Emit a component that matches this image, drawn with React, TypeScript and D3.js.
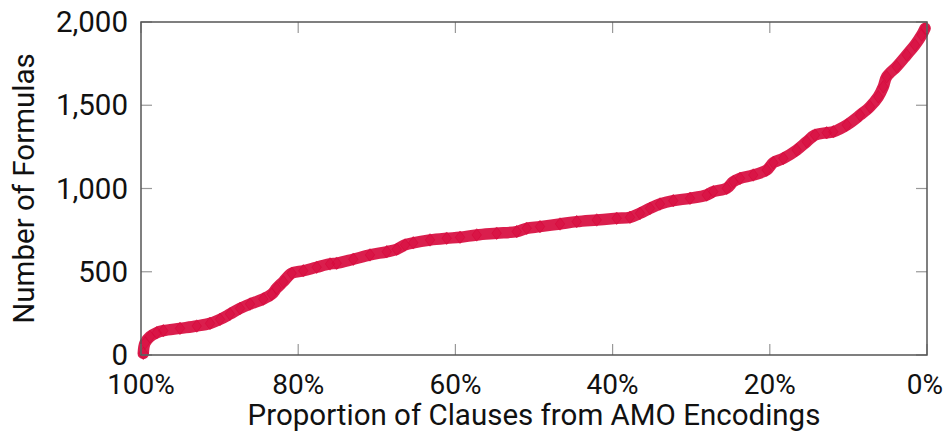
import React from 'react';
import * as d3 from 'd3';

// proportion of clauses from AMO encodings (%)
const proportion = [
  99.71, 99.49, 98.85, 98.0, 97.16, 95.04, 92.91, 91.22, 89.95, 88.68,
  87.4, 86.13, 84.44, 83.37, 82.74, 81.9, 80.83, 79.35, 77.65, 75.95,
  75.1, 72.99, 70.87, 68.74, 67.47, 66.41, 65.36, 63.23, 61.11, 59.41,
  57.29, 54.75, 52.2, 50.93, 49.24, 46.69, 44.57, 42.02, 39.48, 37.79,
  36.51, 35.24, 33.97, 32.28, 30.15, 28.03, 27.19, 25.48, 24.64, 23.79,
  22.1, 20.39, 19.55, 18.28, 16.58, 15.31, 14.25, 12.76, 11.92, 10.22,
  8.52, 7.25, 6.2, 5.56, 5.13, 3.86, 2.59, 1.53, 0.68, 0.25,
];
// number of formulas at that proportion
const formulas = [
  10, 72, 110, 134, 146, 160, 174, 190, 214, 246,
  280, 306, 336, 365, 401, 440, 491, 506, 527, 547,
  551, 575, 601, 620, 635, 661, 674, 691, 701, 707,
  721, 731, 741, 761, 771, 787, 801, 811, 821, 827,
  851, 881, 907, 927, 941, 961, 981, 1001, 1041, 1061,
  1081, 1111, 1155, 1181, 1231, 1281, 1321, 1335, 1341, 1381,
  1441, 1491, 1551, 1611, 1671, 1732, 1802, 1862, 1922, 1962,
];
const xTicks = [100, 80, 60, 40, 20, 0];
const yTicks = [0, 500, 1000, 1500, 2000];

const W = 946;
const H = 433;
const left = 141, right = 927, top = 22, bottom = 355;
const red = '#d6063a';
const font = "Roboto, 'Liberation Sans', sans-serif";
const fs = 29.5;

const diamond = {
  draw(ctx: any, size: number) {
    const h = Math.sqrt(size) * 0.6;
    const w = h * 0.75;
    ctx.moveTo(0, -h);
    ctx.lineTo(w, 0);
    ctx.lineTo(0, h);
    ctx.lineTo(-w, 0);
    ctx.closePath();
  },
};

export default function App() {
  const x = d3.scaleLinear().domain([100, 0]).range([left, right]);
  const y = d3.scaleLinear().domain([0, 2000]).range([bottom, top]);
  const pts = proportion.map((p, i) => [p, formulas[i]] as [number, number]);

  const band = d3
    .line<[number, number]>()
    .x(d => x(d[0]))
    .y(d => y(d[1]))
    .curve(d3.curveCatmullRom)(pts) || '';
  const sym = d3.symbol().type(diamond as any).size(110)() || '';

  return (
    <svg width={W} height={H} style={{ position: 'absolute', left: 0, top: 0, background: '#fff' }}>
      <path d={band} fill="none" stroke={red} strokeWidth={11.5} strokeOpacity={0.9} strokeLinecap="round" strokeLinejoin="round" />
      {pts.map((d, i) => (
        <path key={i} d={sym} transform={`translate(${x(d[0])},${y(d[1])})`}
          fill={red} fillOpacity={0.35} stroke={red} strokeOpacity={0.7} strokeWidth={0.8} />
      ))}
      {/* ticks on all four sides */}
      {xTicks.map(t => (
        <g key={'x' + t} stroke="#999" strokeWidth={1.2}>
          <line x1={x(t)} x2={x(t)} y1={bottom} y2={bottom - 11} />
          <line x1={x(t)} x2={x(t)} y1={top} y2={top + 11} />
        </g>
      ))}
      {yTicks.map(t => (
        <g key={'y' + t} stroke="#999" strokeWidth={1.2}>
          <line x1={left} x2={left + 11} y1={y(t)} y2={y(t)} />
          <line x1={right} x2={right - 11} y1={y(t)} y2={y(t)} />
        </g>
      ))}
      <rect x={left} y={top} width={right - left} height={bottom - top} fill="none" stroke="#555" strokeWidth={1.5} />
      {xTicks.map(t => (
        <text key={'xl' + t} x={t === 0 ? x(t) - 2 : x(t)} y={394} textAnchor="middle" fontFamily={font} fontSize={28} fill="#111">
          {t}%
        </text>
      ))}
      {yTicks.map(t => (
        <text key={'yl' + t} x={128} y={y(t)} dy="0.34em" textAnchor="end" fontFamily={font} fontSize={fs} fill="#111">
          {d3.format(',')(t)}
        </text>
      ))}
      <text x={534} y={425} textAnchor="middle" fontFamily={font} fontSize={fs} fill="#111">
        Proportion of Clauses from AMO Encodings
      </text>
      <text transform={`translate(34,${(top + bottom) / 2}) rotate(-90)`} textAnchor="middle" fontFamily={font} fontSize={fs} fill="#111">
        Number of Formulas
      </text>
    </svg>
  );
}
